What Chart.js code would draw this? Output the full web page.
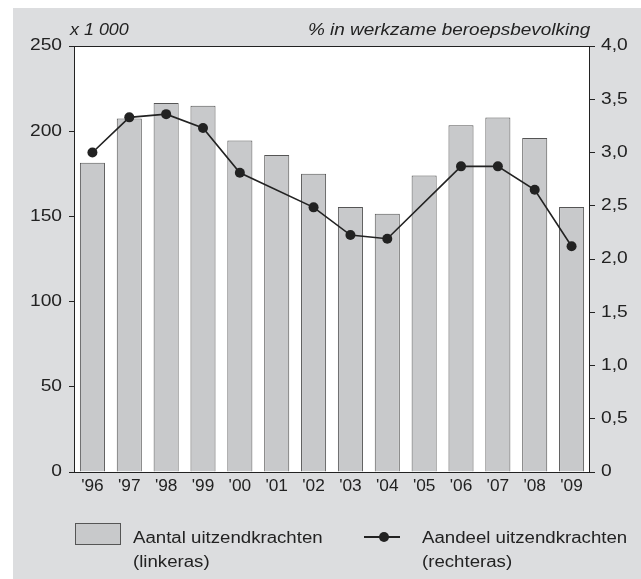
<!DOCTYPE html>
<html>
<head>
<meta charset="utf-8">
<script src="https://cdn.jsdelivr.net/npm/chart.js@4"></script>
<style>
  body { margin: 0; background: #fff; font-family: "Liberation Sans", Arial, sans-serif; color: #222; }
  #panel { position: absolute; left: 13px; top: 8px; width: 628px; height: 571px; background: #dcdddf; }
  #wrap { position: absolute; left: 0; top: 0; width: 628px; height: 571px; }
  .lbl { position: absolute; font-size: 16px; white-space: nowrap; }
  .it { font-style: italic; }
  .leg { position: absolute; font-size: 16px; line-height: 24px; white-space: nowrap; transform: scaleX(1.165); transform-origin: left top; }
</style>
</head>
<body>
<div id="panel">
  <div id="wrap"><canvas id="myChart"></canvas></div>
  <div class="lbl it" style="left:57px; top:13px; transform:scaleX(1.12); transform-origin:left top;">x 1 000</div>
  <div class="lbl it" style="right:51px; top:13px; transform:scaleX(1.185); transform-origin:right top;">% in werkzame beroepsbevolking</div>

  <div style="position:absolute; left:62px; top:515px; width:46px; height:22px; background:#c8c9cb; border:1px solid #555; box-sizing:border-box;"></div>
  <div class="leg" style="left:120px; top:518px;">Aantal uitzendkrachten<br>(linkeras)</div>

  <div style="position:absolute; left:351px; top:528px; width:36px; height:2px; background:#222;"></div>
  <div style="position:absolute; left:366px; top:524px; width:10px; height:10px; border-radius:50%; background:#222;"></div>
  <div class="leg" style="left:409px; top:518px;">Aandeel uitzendkrachten<br>(rechteras)</div>
</div>

<script>
// data
const years = ["'96", "'97", "'98", "'99", "'00", "'01", "'02", "'03", "'04", "'05", "'06", "'07", "'08", "'09"];
const aantal = [181.5, 207.5, 216.5, 215, 194.5, 186, 175, 155.5, 151.5, 174, 203.5, 208, 196, 155.5];
// no marker in '01 and '05: the line just runs across
const aandeel = [3.0, 3.33, 3.36, 3.23, 2.81, null, 2.485, 2.225, 2.19, null, 2.87, 2.87, 2.65, 2.12];

const leftTicks = [0, 50, 100, 150, 200, 250];
const rightTicks = [0, 0.5, 1, 1.5, 2, 2.5, 3, 3.5, 4];

const fmtRight = v => v === 0 ? '0' : v.toFixed(1).replace('.', ',');

// white plot area, frame round it, and the (slightly wide) tick labels
const plotFrame = {
    id: 'plotFrame',
    beforeDraw(chart) {
        const a = chart.chartArea, ctx = chart.ctx;
        ctx.save();
        ctx.fillStyle = '#fff';
        ctx.fillRect(a.left, a.top, a.right - a.left, a.bottom - a.top);
        ctx.restore();
    },
    afterDraw(chart) {
        const a = chart.chartArea, ctx = chart.ctx;
        ctx.save();
        ctx.strokeStyle = '#222';
        ctx.lineWidth = 1;
        ctx.strokeRect(Math.round(a.left) + 0.5, Math.round(a.top) + 0.5,
            Math.round(a.right - a.left) - 1, Math.round(a.bottom - a.top));

        ctx.fillStyle = '#222';
        ctx.font = '16px "Liberation Sans", Arial, sans-serif';
        ctx.textBaseline = 'middle';
        const sx = 1.2;
        const yL = chart.scales.y, yR = chart.scales.y2, xS = chart.scales.x;
        yL.ticks.forEach(t => {
            const py = yL.getPixelForValue(t.value);
            ctx.save();
            ctx.translate(a.left - 12, py);
            ctx.scale(sx, 1);
            ctx.textAlign = 'right';
            ctx.fillText(String(t.value), 0, 0);
            ctx.restore();
        });
        yR.ticks.forEach(t => {
            const py = yR.getPixelForValue(t.value);
            ctx.save();
            ctx.translate(a.right + 11, py);
            ctx.scale(sx, 1);
            ctx.textAlign = 'left';
            ctx.fillText(fmtRight(t.value), 0, 0);
            ctx.restore();
        });
        years.forEach((lab, i) => {
            ctx.save();
            ctx.translate(xS.getPixelForValue(i), a.bottom + 15);
            ctx.scale(1.08, 1);
            ctx.textAlign = 'center';
            ctx.fillText(lab, 0, 0);
            ctx.restore();
        });
        ctx.restore();
    }
};

Chart.defaults.font.family = '"Liberation Sans", Arial, sans-serif';
Chart.defaults.font.size = 16;
Chart.defaults.color = '#222';

new Chart(document.getElementById('myChart').getContext('2d'), {
    type: 'bar',
    data: {
        labels: years,
        datasets: [{
            type: 'line',
            label: 'Aandeel uitzendkrachten',
            data: aandeel,
            yAxisID: 'y2',
            borderColor: '#222',
            backgroundColor: '#222',
            borderWidth: 1.6,
            pointRadius: 5,
            pointBorderWidth: 0,
            spanGaps: true,
            tension: 0,
            order: 0
        }, {
            label: 'Aantal uitzendkrachten',
            data: aantal,
            yAxisID: 'y',
            backgroundColor: '#c8c9cb',
            borderColor: '#555',
            borderWidth: 1,
            barPercentage: 0.68,
            categoryPercentage: 1,
            order: 1
        }]
    },
    options: {
        responsive: true,
        maintainAspectRatio: false,
        animation: false,
        layout: { padding: { top: 38, left: 0, right: 0, bottom: 0 } },
        plugins: { legend: { display: false }, tooltip: { enabled: false } },
        scales: {
            x: {
                grid: { display: false },
                border: { display: false },
                ticks: { display: false, autoSkip: false },
                afterFit: s => { s.height = 107; }
            },
            y: {
                position: 'left',
                min: 0, max: 250,
                afterBuildTicks: s => { s.ticks = leftTicks.map(v => ({ value: v })); },
                grid: { drawOnChartArea: false, tickLength: 5, color: '#222' },
                border: { display: false },
                ticks: { display: false },
                afterFit: s => { s.width = 61; }
            },
            y2: {
                position: 'right',
                min: 0, max: 4,
                afterBuildTicks: s => { s.ticks = rightTicks.map(v => ({ value: v })); },
                grid: { drawOnChartArea: false, tickLength: 5, color: '#222' },
                border: { display: false },
                ticks: { display: false, callback: fmtRight },
                afterFit: s => { s.width = 51; }
            }
        }
    },
    plugins: [plotFrame]
});
</script>
</body>
</html>
